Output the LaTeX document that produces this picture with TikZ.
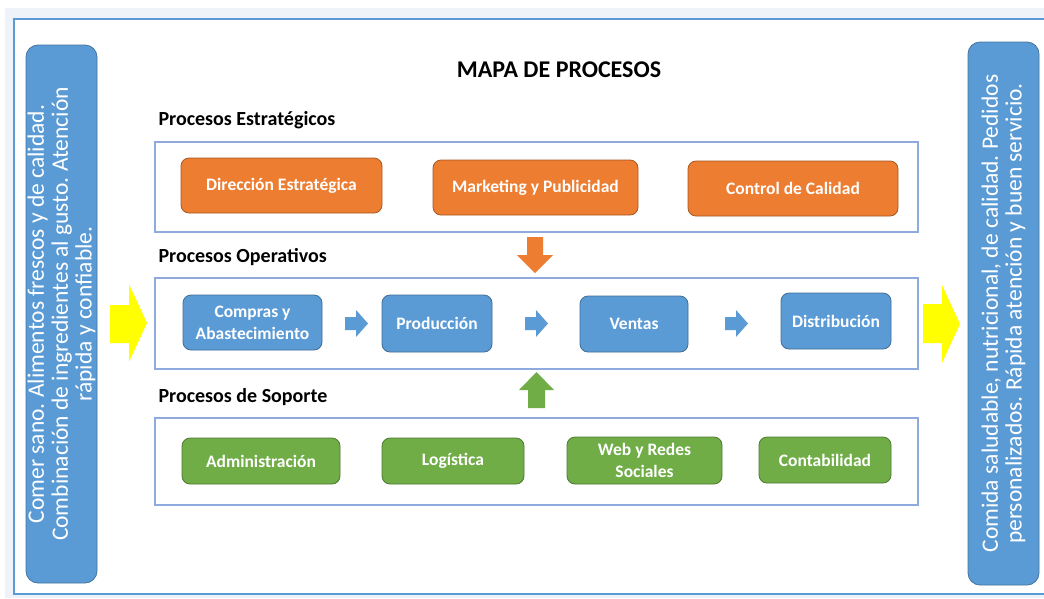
\documentclass[tikz,border=0pt]{standalone}
\usepackage{fontspec}
\setmainfont{Carlito}
\frenchspacing
\definecolor{naranja}{HTML}{ED7D31}
\definecolor{azul}{HTML}{5B9BD5}
\definecolor{verde}{HTML}{70AD47}
\definecolor{marco}{HTML}{8FAADC}
\definecolor{fondo}{HTML}{EEF3FA}
\definecolor{amarillo}{HTML}{FFFF00}
\begin{document}
\begin{tikzpicture}[x=1pt, y=-1pt,
    proc/.style={draw=#1!70!black, fill=#1, rounded corners=8pt, line width=0.8pt,
        text=white, align=center, inner sep=1pt, font=\bfseries\fontsize{17.5}{22}\selectfont},
    panel/.style={draw=azul!75!black, fill=azul, rounded corners=12pt, line width=0.8pt,
        rotate=90, text=white, align=center, inner sep=0pt, font=\fontsize{23.5}{23.8}\selectfont},
    grupo/.style={draw=marco, line width=1.2pt},
    titulo/.style={anchor=west, font=\bfseries\fontsize{20}{24}\selectfont}
]
\useasboundingbox (0,0) rectangle (1044,598);

% fondo y marco exterior
\fill[fondo] (5,8) rectangle (1044,598);
\fill[white] (14,19) rectangle (1050,594);
\draw[azul, line width=2pt] (14,19) rectangle (1050,594);

% paneles laterales
\node[panel, minimum width=538, minimum height=71] (entrada) at (61.5,314)
    {Comer sano. Alimentos frescos y de calidad.\\
     Combinación de ingredientes al gusto. Atención\\
     rápida y confiable.};
\node[panel, minimum width=543, minimum height=71] (salida) at (1003.5,313.5)
    {Comida saludable, nutricional, de calidad. Pedidos\\
     personalizados. Rápida atención y buen servicio.};

\node[font=\bfseries\fontsize{24}{28}\selectfont] (titulo) at (559,70) {MAPA DE PROCESOS};

% grupos
\node[titulo] (tE) at (155,120) {Procesos Estratégicos};
\node[titulo] (tO) at (155,257) {Procesos Operativos};
\node[titulo] (tS) at (155,397) {Procesos de Soporte};
\draw[grupo] (155,142) rectangle (918,232);
\draw[grupo] (155,278) rectangle (918,369);
\draw[grupo] (155,418) rectangle (918,505);

% estrategicos
\node[proc=naranja, minimum width=201, minimum height=55] (dir) at (281.5,185.5) {Dirección Estratégica};
\node[proc=naranja, minimum width=205, minimum height=55] (mkt) at (535.5,187.5) {Marketing y Publicidad};
\node[proc=naranja, minimum width=210, minimum height=55] (cal) at (793,188.5) {Control de Calidad};

% operativos
\node[proc=azul, minimum width=139, minimum height=55] (com) at (252.5,322.5) {Compras y\\Abastecimiento};
\node[proc=azul, minimum width=110, minimum height=57] (prod) at (437,323.5) {Producción};
\node[proc=azul, minimum width=108, minimum height=56] (ven) at (634,324) {Ventas};
\node[proc=azul, minimum width=110, minimum height=56] (dist) at (836,321) {Distribución};

% soporte
\node[proc=verde, minimum width=158, minimum height=46] (adm) at (261,461) {Administración};
\node[proc=verde, minimum width=142, minimum height=46] (log) at (453,461) {Logística};
\node[proc=verde, minimum width=155, minimum height=47] (web) at (644.5,460.5) {Web y Redes\\Sociales};
\node[proc=verde, minimum width=132, minimum height=46] (cont) at (825,460) {Contabilidad};

% flechas de bloque
\fill[amarillo] (110,305) -- (129,305) -- (129,284) -- (147,323) -- (129,362) -- (129,343) -- (110,343) -- cycle;
\fill[amarillo] (923,304) -- (942,304) -- (942,285) -- (960,324) -- (942,363) -- (942,343) -- (923,343) -- cycle;
\fill[naranja] (527,237) -- (543,237) -- (543,255) -- (553,255) -- (535,273) -- (517,255) -- (527,255) -- cycle;
\fill[verde] (528,408) -- (545,408) -- (545,390) -- (554,390) -- (536.5,372) -- (519,390) -- (528,390) -- cycle;
\foreach \x in {345,525,725}
    \fill[azul] (\x,317) -- (\x+11,317) -- (\x+11,310) -- (\x+23,323.5) -- (\x+11,337) -- (\x+11,330) -- (\x,330) -- cycle;

\end{tikzpicture}
\end{document}
